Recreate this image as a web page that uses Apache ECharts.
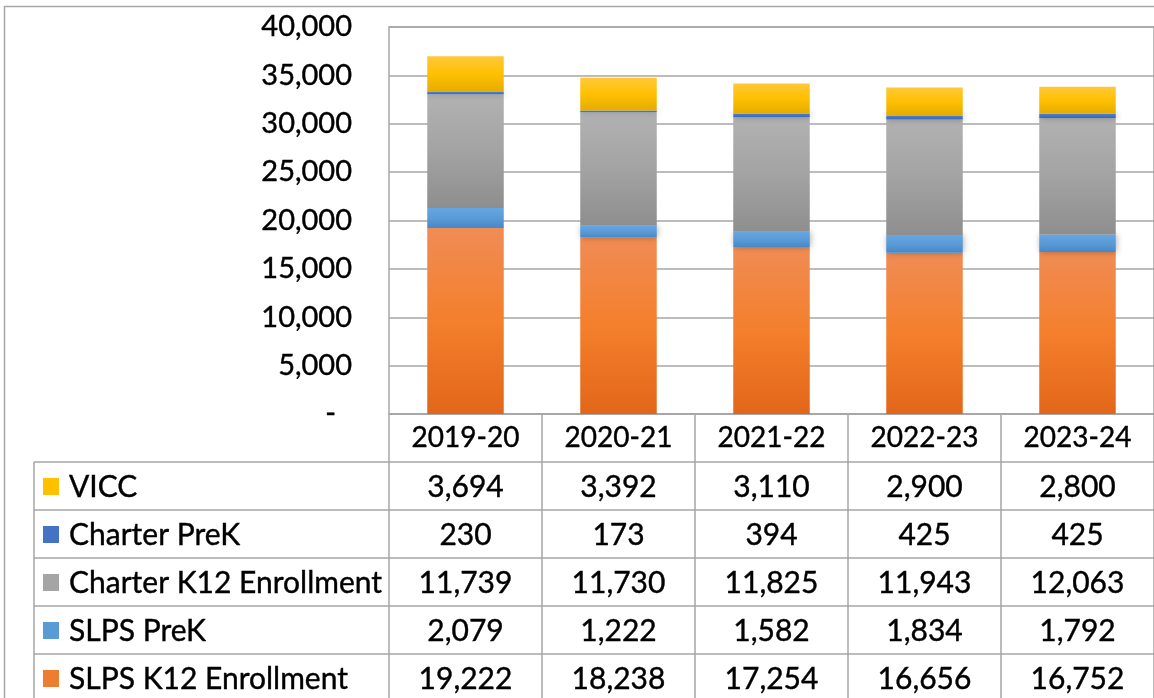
<!DOCTYPE html>
<html>
<head>
<meta charset="utf-8">
<script src="https://cdn.jsdelivr.net/npm/echarts@6/dist/echarts.min.js"></script>
<style>
html, body { margin: 0; padding: 0; background: #fff; }
#main { width: 1154px; height: 698px; }
</style>
</head>
<body>
<div id="main"></div>
<script>
// 年份
var years = ['2019-20', '2020-21', '2021-22', '2022-23', '2023-24'];
// 各系列数据
var vicc = [3694, 3392, 3110, 2900, 2800];
var charterPreK = [230, 173, 394, 425, 425];
var charterK12 = [11739, 11730, 11825, 11943, 12063];
var slpsPreK = [2079, 1222, 1582, 1834, 1792];
var slpsK12 = [19222, 18238, 17254, 16656, 16752];
// y轴刻度
var yMin = 0;
var yMax = 40000;
var yStep = 5000;

var fontName = 'Lato';
var fontSize = 30;
var lineColor = '#a6a6a6';
var rowH = 48;       // 表格行高
var tableLeft = 34;  // 图例列左边

function fmt(v) {
    return v.toString().replace(/\B(?=(\d{3})+(?!\d))/g, ',');
}

// 上浅下深的渐变
function grad(c1, c2, c3) {
    return new echarts.graphic.LinearGradient(0, 0, 0, 1, [
        { offset: 0, color: c1 },
        { offset: 0.5, color: c2 },
        { offset: 1, color: c3 }
    ]);
}

// 从下往上堆叠
var stackList = [
    { name: 'SLPS K12 Enrollment', data: slpsK12, key: '#ed7d31', fill: grad('#f08c55', '#f47f2c', '#e2661a') },
    { name: 'SLPS PreK', data: slpsPreK, key: '#5b9bd5', fill: grad('#66a6e2', '#5a9bd7', '#4688c8') },
    { name: 'Charter K12 Enrollment', data: charterK12, key: '#a5a5a5', fill: grad('#b2b2b2', '#a3a3a3', '#8e8e8e') },
    { name: 'Charter PreK', data: charterPreK, key: '#4472c4', fill: grad('#4f7ed2', '#4472c4', '#3a64b0') },
    { name: 'VICC', data: vicc, key: '#ffc000', fill: grad('#ffc83a', '#ffc000', '#e5ac00') }
];

var series = stackList.map(function (s) {
    return {
        name: s.name,
        type: 'bar',
        stack: 'total',
        barWidth: '50%',
        data: s.data,
        itemStyle: {
            color: s.fill,
            shadowBlur: 6,
            shadowColor: 'rgba(0,0,0,0.3)',
            shadowOffsetX: 1,
            shadowOffsetY: 0
        },
        emphasis: { disabled: true }
    };
});

var myChart = echarts.init(document.getElementById('main'));
var option = {
    animation: false,
    textStyle: { fontFamily: fontName },
    grid: {
        left: 389,
        top: 27,
        width: 775,
        height: 387,
        show: true,
        borderColor: lineColor,
        borderWidth: 1.5,
        containLabel: false
    },
    xAxis: {
        type: 'category',
        data: years,
        axisTick: { show: false },
        axisLine: { lineStyle: { color: lineColor, width: 1.5 } },
        axisLabel: {
            color: '#000',
            fontFamily: fontName,
            fontSize: 28,
            lineHeight: 28,
            margin: 10,
            textBorderColor: '#000',
            textBorderWidth: 0.4
        }
    },
    yAxis: {
        type: 'value',
        min: yMin,
        max: yMax,
        interval: yStep,
        axisLine: { show: false },
        axisTick: { show: false },
        splitLine: { lineStyle: { color: lineColor, width: 1.5 } },
        axisLabel: {
            color: '#000',
            fontFamily: fontName,
            fontSize: 29,
            margin: 37,
            textBorderColor: '#000',
            textBorderWidth: 0.4,
            formatter: function (v) {
                return v === 0 ? '{d|-}' : fmt(v);
            },
            rich: {
                d: { fontFamily: fontName, fontSize: 29, color: '#000', padding: [0, 16, 0, 0] }
            }
        }
    },
    series: series
};
myChart.setOption(option);

// 数据表（图下方）
(function () {
    var c0 = myChart.convertToPixel({ xAxisIndex: 0 }, years[0]);
    var c1 = myChart.convertToPixel({ xAxisIndex: 0 }, years[1]);
    var cw = c1 - c0;
    var yBase = myChart.convertToPixel({ yAxisIndex: 0 }, 0);
    var headBottom = yBase + rowH;
    var gLeft = c0 - cw / 2;
    var rightEnd = gLeft + cw * years.length;
    var rows = stackList.slice().reverse();
    var els = [];
    var line = function (x1, y1, x2, y2) {
        els.push({
            type: 'line',
            shape: { x1: x1, y1: y1, x2: x2, y2: y2 },
            style: { stroke: lineColor, lineWidth: 1.5 },
            silent: true
        });
    };
    // 外边框
    els.push({
        type: 'rect',
        shape: { x: 4.5, y: 6.5, width: 1200, height: 800 },
        style: { fill: null, stroke: lineColor, lineWidth: 1.5 },
        silent: true
    });
    // 竖线
    for (var i = 0; i <= years.length; i++) {
        line(gLeft + cw * i, yBase, gLeft + cw * i, 720);
    }
    line(tableLeft, headBottom, tableLeft, 720);
    // 横线
    for (var r = 0; r <= rows.length; r++) {
        line(tableLeft, headBottom + rowH * r, rightEnd, headBottom + rowH * r);
    }
    var txtStyle = function (t, align) {
        return {
            text: t, fill: '#000', font: fontSize + 'px ' + fontName,
            align: align, verticalAlign: 'middle',
            stroke: '#000', lineWidth: 0.4
        };
    };
    rows.forEach(function (row, k) {
        var cy = headBottom + rowH * k + rowH / 2;
        els.push({
            type: 'rect',
            shape: { x: 43, y: cy - 8, width: 16, height: 17 },
            style: { fill: row.key },
            silent: true
        });
        els.push({ type: 'text', x: 69, y: cy + 1, style: txtStyle(row.name, 'left'), silent: true });
        row.data.forEach(function (v, j) {
            els.push({
                type: 'text',
                x: myChart.convertToPixel({ xAxisIndex: 0 }, years[j]),
                y: cy + 1,
                style: txtStyle(fmt(v), 'center'),
                silent: true
            });
        });
    });
    myChart.setOption({ graphic: els });
})();
</script>
</body>
</html>
